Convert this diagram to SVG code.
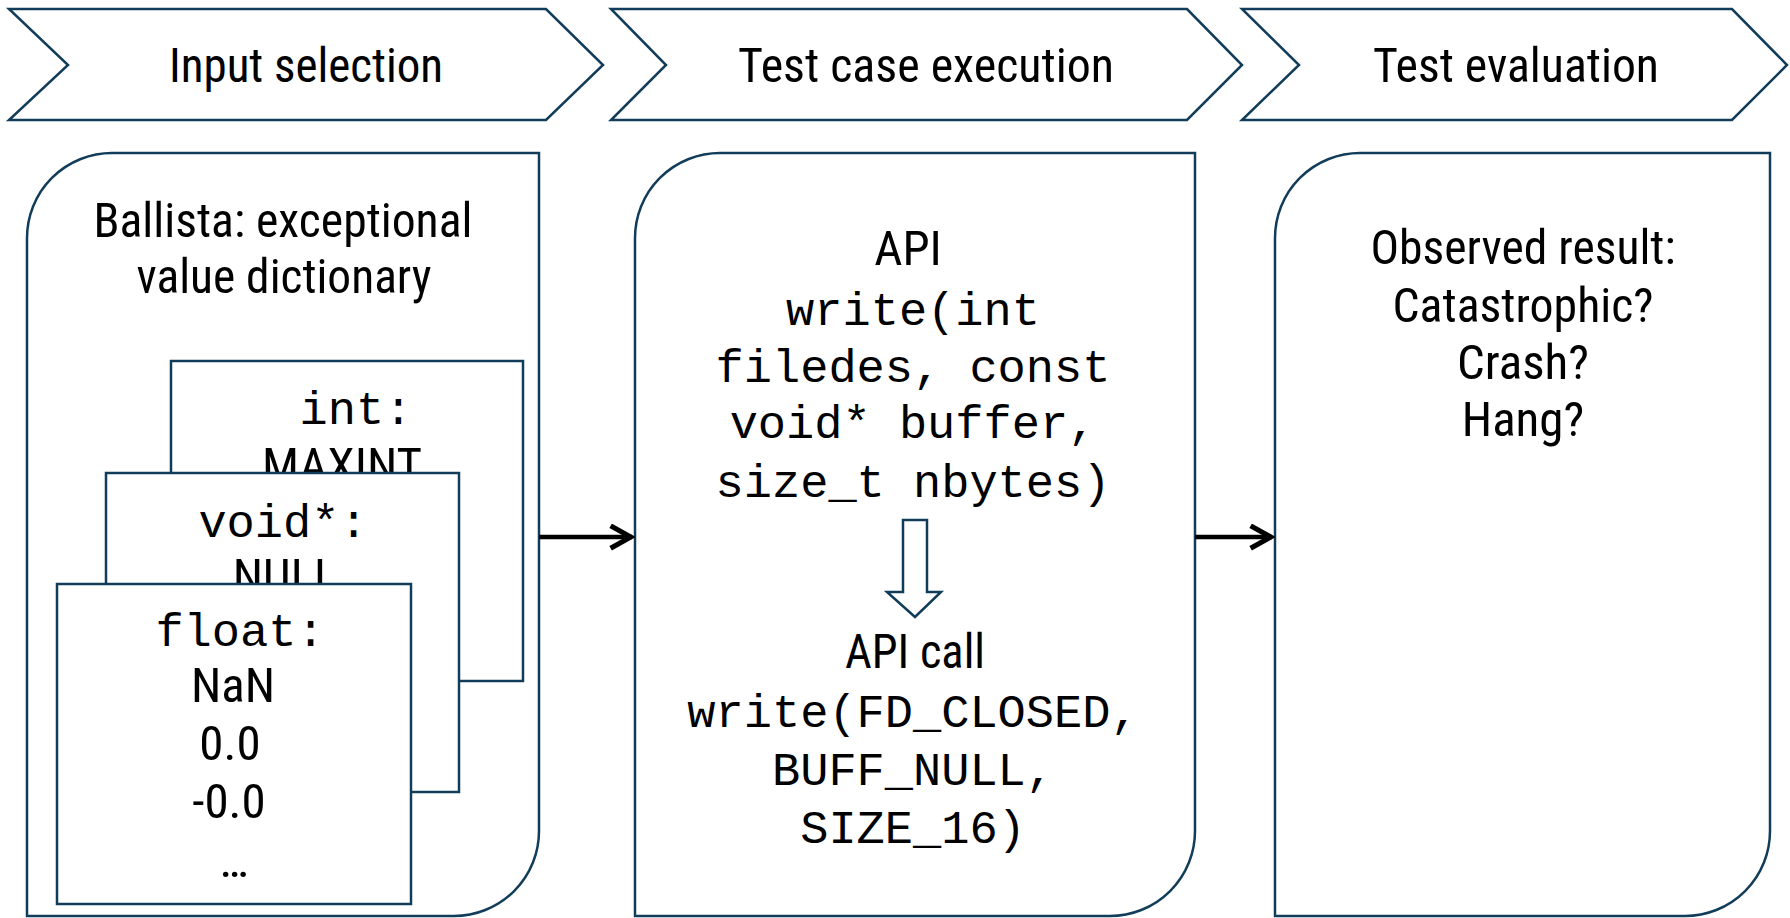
<svg xmlns="http://www.w3.org/2000/svg" width="1790" height="918" viewBox="0 0 1790 918">
  <style>
    .chev { fill: #ffffff; stroke: #123d5a; stroke-width: 2.5; stroke-linejoin: miter; }
    .box { fill: #ffffff; stroke: #123d5a; stroke-width: 2.5; }
    .card { fill: #ffffff; stroke: #123d5a; stroke-width: 2.5; }
    .sans { font-family: "Roboto Condensed", Roboto, "Liberation Sans", sans-serif; font-size: 49px; fill: #000000; text-anchor: middle; }
    .mono { font-family: "Courier New", "Nimbus Mono PS", "Liberation Mono", monospace; font-size: 47px; fill: #000000; text-anchor: middle; }
    .conn { fill: none; stroke: #000000; stroke-width: 4.5; }
  </style>
  <defs>
    <marker id="arrowOpen" viewBox="0 0 12 12" refX="10.5" refY="6" markerWidth="6" markerHeight="6" orient="auto" markerUnits="strokeWidth">
      <path d="M1,1 L10,6 L1,11" fill="none" stroke="#000000" stroke-width="2.2"/>
    </marker>
  </defs>

  <!-- process phase chevrons -->
  <g id="phase-input">
    <path class="chev" d="M9,9 H546 L603,65 L546,120 H9 L68,65 Z"/>
    <text class="sans" x="306" y="82" textLength="274" lengthAdjust="spacingAndGlyphs">Input selection</text>
  </g>
  <g id="phase-execution">
    <path class="chev" d="M611,9 H1187 L1242,65 L1187,120 H611 L666,65 Z"/>
    <text class="sans" x="926" y="82" textLength="376" lengthAdjust="spacingAndGlyphs">Test case execution</text>
  </g>
  <g id="phase-evaluation">
    <path class="chev" d="M1242,9 H1732 L1787,65 L1732,120 H1242 L1299,65 Z"/>
    <text class="sans" x="1516" y="82" textLength="286" lengthAdjust="spacingAndGlyphs">Test evaluation</text>
  </g>

  <!-- input selection panel with stacked value cards -->
  <g id="panel-input">
    <path class="box" d="M27,238 A85,85 0 0 1 112,153 H539 V831 A85,85 0 0 1 454,916 H27 Z"/>
    <text class="sans" x="283" y="237" textLength="379" lengthAdjust="spacingAndGlyphs">Ballista: exceptional</text>
    <text class="sans" x="284" y="293" textLength="295" lengthAdjust="spacingAndGlyphs">value dictionary</text>
  </g>
  <g id="card-int">
    <rect class="card" x="171" y="361" width="352" height="320"/>
    <text class="mono" x="356" y="424">int:</text>
    <text class="sans" x="342" y="482">MAXINT</text>
  </g>
  <g id="card-void">
    <rect class="card" x="106" y="473" width="353" height="319"/>
    <text class="mono" x="283" y="537">void*:</text>
    <text class="sans" x="285" y="593">NULL</text>
  </g>
  <g id="card-float">
    <rect class="card" x="57" y="584" width="354" height="320"/>
    <text class="mono" x="240" y="646">float:</text>
    <text class="sans" x="233" y="702">NaN</text>
    <text class="sans" x="230" y="760">0.0</text>
    <text class="sans" x="229" y="818">-0.0</text>
    <text class="sans" x="234" y="877">…</text>
  </g>

  <!-- test case execution panel -->
  <g id="panel-execution">
    <path class="box" d="M635,238 A85,85 0 0 1 720,153 H1195 V831 A85,85 0 0 1 1110,916 H635 Z"/>
    <text class="sans" x="908" y="265">API</text>
    <text class="mono" x="913" y="325">write(int</text>
    <text class="mono" x="913" y="382">filedes, const</text>
    <text class="mono" x="913" y="438">void* buffer,</text>
    <text class="mono" x="913" y="497">size_t nbytes)</text>
    <path class="chev" d="M903,520 H927 V592 H941 L915,617 L887,592 H903 Z"/>
    <text class="sans" x="915" y="668" textLength="140" lengthAdjust="spacingAndGlyphs">API call</text>
    <text class="mono" x="913" y="727">write(FD_CLOSED,</text>
    <text class="mono" x="913" y="785">BUFF_NULL,</text>
    <text class="mono" x="913" y="843">SIZE_16)</text>
  </g>

  <!-- test evaluation panel -->
  <g id="panel-evaluation">
    <path class="box" d="M1275,238 A85,85 0 0 1 1360,153 H1770 V831 A85,85 0 0 1 1685,916 H1275 Z"/>
    <text class="sans" x="1523" y="264" textLength="305" lengthAdjust="spacingAndGlyphs">Observed result:</text>
    <text class="sans" x="1523" y="322" textLength="261" lengthAdjust="spacingAndGlyphs">Catastrophic?</text>
    <text class="sans" x="1523" y="379">Crash?</text>
    <text class="sans" x="1523" y="436">Hang?</text>
  </g>

  <!-- flow connectors between panels -->
  <g id="connectors">
    <line class="conn" x1="539" y1="537" x2="632" y2="537" marker-end="url(#arrowOpen)"/>
    <line class="conn" x1="1195" y1="537" x2="1272" y2="537" marker-end="url(#arrowOpen)"/>
  </g>
</svg>
